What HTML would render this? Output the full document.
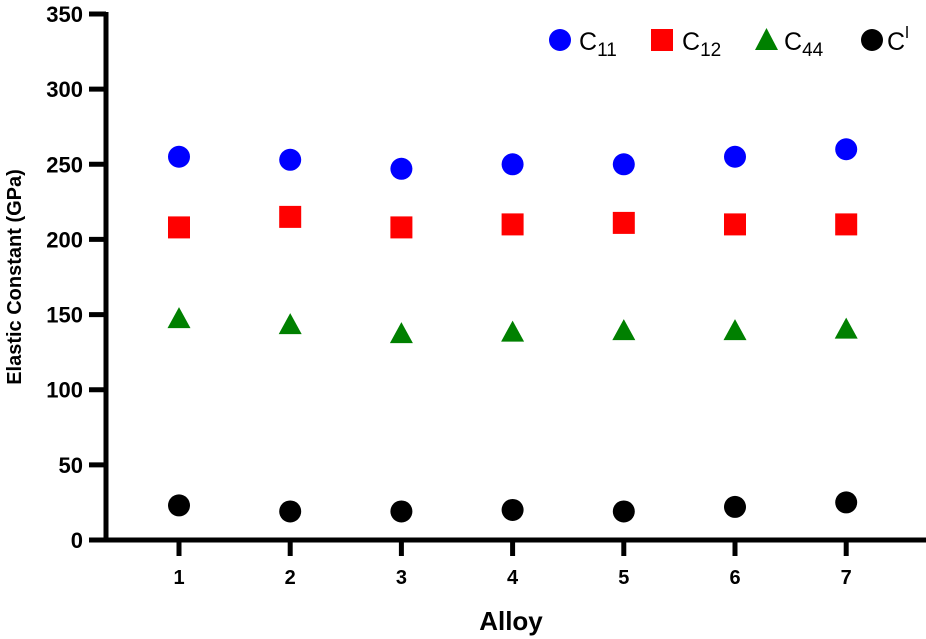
<!DOCTYPE html>
<html><head><meta charset="utf-8"><style>
body{margin:0;background:#fff;}
svg{display:block;font-family:"Liberation Sans",sans-serif;}
</style></head><body>
<svg id="chart" width="926" height="639" viewBox="0 0 926 639">
<g id="axes"></g><g id="marks"></g>
<g font-size="25">
<circle cx="560" cy="40" r="11" fill="#0000ff"/>
<text x="579" y="50">C<tspan font-size="19" dy="6">11</tspan></text>
<rect x="651" y="29" width="22" height="22" fill="#ff0000"/>
<text x="682" y="50">C<tspan font-size="19" dy="6">12</tspan></text>
<polygon points="755,50 778,50 766.5,28" fill="#008000"/>
<text x="784" y="50">C<tspan font-size="19" dy="6">44</tspan></text>
<circle cx="872" cy="40" r="11" fill="#000"/>
<text x="887" y="50">C<tspan font-size="17" dy="-12">l</tspan></text>
</g>
<text transform="translate(21,277) rotate(-90)" text-anchor="middle" font-size="20" font-weight="bold">Elastic Constant (GPa)</text>
<text x="511" y="630" text-anchor="middle" font-size="26" font-weight="bold">Alloy</text>
</svg>
<script>
const categories=["1","2","3","4","5","6","7"];
const c11=[255,253,247,250,250,255,260];
const c12=[208,215,208,210,211,210,210];
const c44=[147,143,137,138,139,139,140];
const cI=[23,19,19,20,19,22,25];
const yTicks=[0,50,100,150,200,250,300,350];
const NS="http://www.w3.org/2000/svg";
function y(v){return 540-v*(526/350);}
function x(i){return 179+i*111.2;}
function mk(tag,attrs,parent){const e=document.createElementNS(NS,tag);for(const k in attrs)e.setAttribute(k,attrs[k]);parent.appendChild(e);return e;}
const axes=document.getElementById('axes'),marks=document.getElementById('marks');
let l=mk('line',{x1:106,y1:12,x2:106,y2:542,stroke:'#000','stroke-width':5},axes);


l=mk('line',{x1:104,y1:540,x2:926,y2:540,stroke:'#000','stroke-width':5},axes);


yTicks.forEach(t=>{
 const tk=mk('line',{x1:89,y1:y(t),x2:106,y2:y(t),stroke:'#000','stroke-width':5},axes);
 
 
 const tx=mk('text',{x:83,y:y(t)+8,'text-anchor':'end','font-size':22,'font-weight':'bold'},axes);
 tx.textContent=t;
 
 
});
categories.forEach((c,i)=>{
 const tk=mk('line',{x1:x(i),y1:540,x2:x(i),y2:556,stroke:'#000','stroke-width':5},axes);
 
 
 const tx=mk('text',{x:x(i),y:584,'text-anchor':'middle','font-size':20,'font-weight':'bold'},axes);
 tx.textContent=c;
 
 
});
categories.forEach((c,i)=>{
 const a=mk('circle',{cx:x(i),cy:y(c11[i]),r:11,fill:'#0000ff'},marks);
 
 
 const b=mk('rect',{x:x(i)-11,y:y(c12[i])-11,width:22,height:22,fill:'#ff0000'},marks);
 
 
 const cy=y(c44[i]);
 const d=mk('polygon',{points:`${x(i)-11.5},${cy+9} ${x(i)+11.5},${cy+9} ${x(i)},${cy-12}`,fill:'#008000'},marks);
 
 
 const e=mk('circle',{cx:x(i),cy:y(cI[i]),r:11,fill:'#000'},marks);
 
 
});
</script>
</body></html>
